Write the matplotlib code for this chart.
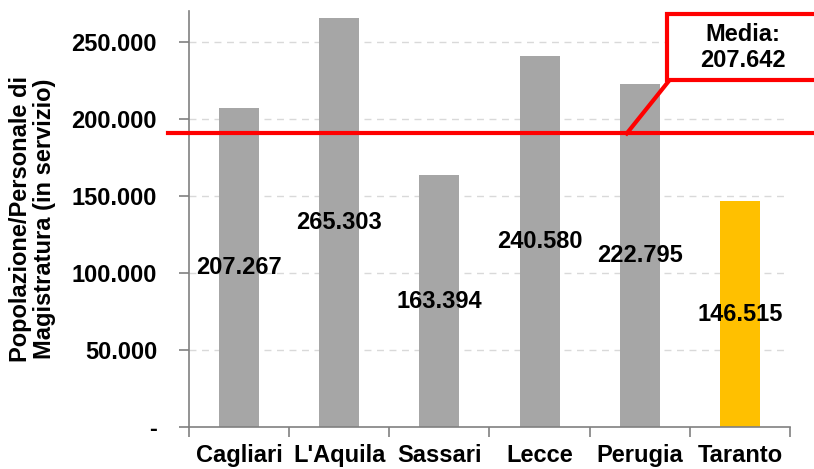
import matplotlib
matplotlib.use("Agg")
import matplotlib.pyplot as plt
from matplotlib.patches import Rectangle
from matplotlib.lines import Line2D
from matplotlib.ticker import FuncFormatter, FixedLocator

categories = ["Cagliari", "L'Aquila", "Sassari", "Lecce", "Perugia", "Taranto"]
values = [207267, 265303, 163394, 240580, 222795, 146515]
bar_colors = ["#A6A6A6", "#A6A6A6", "#A6A6A6", "#A6A6A6", "#A6A6A6", "#FFC000"]
media_label = "Media:\n207.642"
media_line_level = 190500
y_ticks = [0, 50000, 100000, 150000, 200000, 250000]

plt.rcParams['font.family'] = ['Liberation Sans', 'DejaVu Sans']

W, H = 814, 469
fig = plt.figure(figsize=(W / 100, H / 100), dpi=100)
L, R, B, T = 189, 790, 427, 11
ax = fig.add_axes([L / W, 1 - B / H, (R - L) / W, (B - T) / H])

x = list(range(len(categories)))
ax.bar(x, values, width=0.4, color=bar_colors, zorder=2)
ax.set_xlim(-0.5, len(categories) - 0.5)
ax.set_ylim(0, 270000)

def fmt(v, pos=None):
    if v == 0:
        return "-"
    return f"{int(round(v)):,}".replace(",", ".")

for xi, v in zip(x, values):
    ax.text(xi, v / 2, fmt(v), ha="center", va="center", fontsize=17,
            fontweight="bold", color="black", zorder=4)

ax.set_yticks(y_ticks)
ax.yaxis.set_major_formatter(FuncFormatter(fmt))
for yt in y_ticks[1:]:
    ax.plot([-0.5, len(categories) - 0.52], [yt, yt], color="#D9D9D9",
            linestyle=(0, (5, 4)), linewidth=1, zorder=1)

ax.set_xticks(x)
ax.set_xticklabels(categories, fontsize=17, fontweight="bold")
ax.tick_params(axis="x", which="major", length=0, pad=12)
ax.xaxis.set_minor_locator(FixedLocator([i - 0.5 for i in range(len(categories) + 1)]))
ax.tick_params(axis="x", which="minor", length=7, color="#808080", width=1.2)
ax.tick_params(axis="y", length=7, color="#808080", width=1.2, labelsize=17, pad=16)
for lab in ax.get_yticklabels():
    lab.set_fontweight("bold")

for s in ["top", "right"]:
    ax.spines[s].set_visible(False)
for s in ["left", "bottom"]:
    ax.spines[s].set_color("#808080")
    ax.spines[s].set_linewidth(1.2)

ax.set_ylabel("Popolazione/Personale di\nMagistratura (in servizio)",
              fontsize=17, fontweight="bold", linespacing=1.05)
ax.yaxis.set_label_coords(-0.222, 0.5)

# red mean line extending beyond axes
ax.axhline(media_line_level, xmin=(168 - L) / (R - L), xmax=(W + 5 - L) / (R - L),
           color="#FF0000", linewidth=3, clip_on=False, zorder=3)

# callout box
fig.add_artist(Rectangle((667 / W, 1 - 80 / H), (830 - 667) / W, 66 / H,
                         transform=fig.transFigure, fill=True, facecolor="white",
                         edgecolor="#FF0000", linewidth=3, clip_on=False, zorder=5))
fig.text(743 / W, 1 - 47.5 / H, media_label, ha="center", va="center",
         fontsize=17, fontweight="bold", linespacing=1.2, zorder=6)
# pointer
x_start = ax.transData.transform((3.87, media_line_level))
fig.add_artist(Line2D([x_start[0] / W, 668 / W], [x_start[1] / H, 1 - 82 / H],
                      transform=fig.transFigure, color="#FF0000", linewidth=3, zorder=5))

fig.savefig("out.png", dpi=100)
